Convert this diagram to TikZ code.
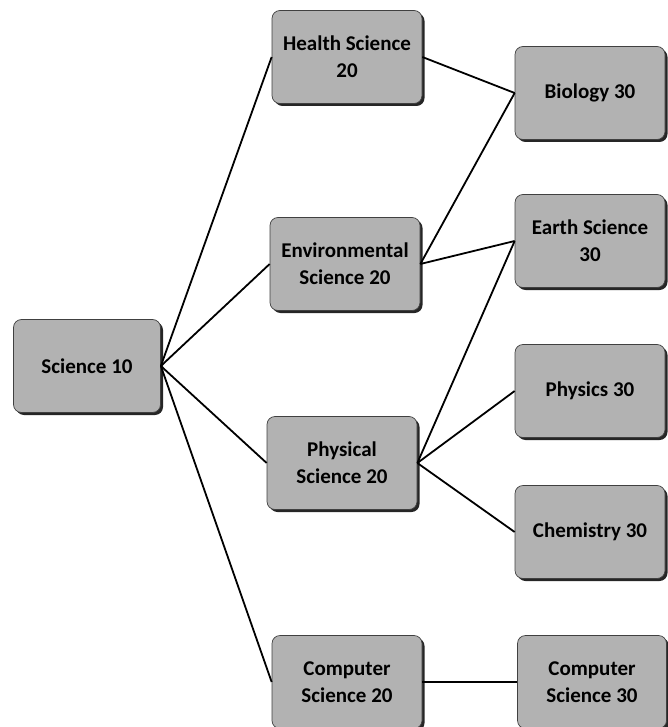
\documentclass[tikz,border=0pt]{standalone}
\usepackage{fontspec}
\setmainfont{Carlito}
\usetikzlibrary{shadows}
\begin{document}
\begin{tikzpicture}[x=1pt,y=-1pt,
  course/.style={draw=black!75, line width=0.7pt, fill=black!30, rounded corners=8pt,
    minimum width=150pt, minimum height=93pt, align=center, inner sep=2pt,
    font=\fontsize{21}{27}\selectfont\bfseries,
    drop shadow={shadow xshift=2.5pt, shadow yshift=-2.5pt, fill=black!85, opacity=1}},
  link/.style={draw=black, line width=1.8pt}]
\useasboundingbox (0,0) rectangle (667,727);
\node[course, minimum width=147pt] (s10) at (87,366) {Science 10};
\node[course] (hs) at (347,57) {Health Science\\20};
\node[course] (env) at (345,264) {Environmental\\Science 20};
\node[course] (phys) at (342,463) {Physical\\Science 20};
\node[course] (cs20) at (347,682) {Computer\\Science 20};
\node[course] (bio) at (590,93) {Biology 30};
\node[course] (earth) at (590,241) {Earth Science\\30};
\node[course] (physics) at (590,391) {Physics 30};
\node[course] (chem) at (590,532) {Chemistry 30};
\node[course, minimum width=149pt] (cs30) at (592,682) {Computer\\Science 30};
\draw[link] (s10.east) -- (hs.west);
\draw[link] (s10.east) -- (env.west);
\draw[link] (s10.east) -- (phys.west);
\draw[link] (s10.east) -- (cs20.west);
\draw[link] (hs.east) -- (bio.west);
\draw[link] (env.east) -- (bio.west);
\draw[link] (env.east) -- (earth.west);
\draw[link] (phys.east) -- (earth.west);
\draw[link] (phys.east) -- (physics.west);
\draw[link] (phys.east) -- (chem.west);
\draw[link] (cs20.east) -- (cs30.west);
\end{tikzpicture}
\end{document}
